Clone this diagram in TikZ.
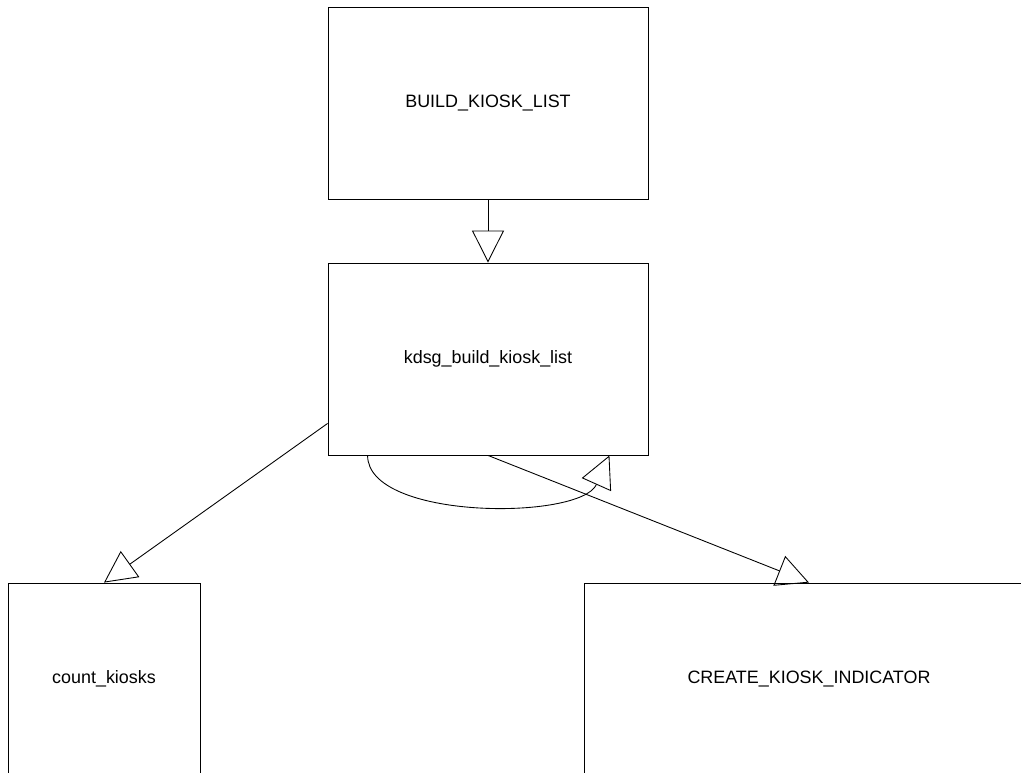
\documentclass[tikz,border=0pt]{standalone}
\usepackage{fontspec}
\setmainfont{Liberation Sans}
\usetikzlibrary{arrows.meta}

\begin{document}
\begin{tikzpicture}[x=0.02cm,y=-0.02cm,line width=0.5pt,
  fn/.style={draw,rectangle,inner sep=0pt,minimum height=3.84cm,
    font=\fontsize{10.2}{12}\selectfont},
  call/.style={-{Triangle[open,length=0.64cm,width=0.64cm]}}]

\useasboundingbox (0,0) rectangle (1021,772);
\clip (0,0) rectangle (1021,772);

\node[fn,minimum width=6.4cm] (buildlist) at (488,103) {BUILD\_KIOSK\_LIST};
\node[fn,minimum width=6.4cm] (kdsgbuild) at (488,359) {kdsg\_build\_kiosk\_list};
\node[fn,minimum width=3.84cm] (count) at (104,679) {count\_kiosks};
\node[fn,minimum width=9cm] (indicator) at (809,679) {CREATE\_KIOSK\_INDICATOR};

\draw[call] (buildlist) -- (kdsgbuild);
\draw[call] ([yshift=0.64cm]kdsgbuild.south west) -- (count.north);
\draw[call] (kdsgbuild.south) -- (indicator.north);

% recursive call
\draw[call] ([xshift=0.8cm]kdsgbuild.south west)
  .. controls +(0,65) and +(-29,65) .. ([xshift=-0.78cm]kdsgbuild.south east);

\end{tikzpicture}
\end{document}
